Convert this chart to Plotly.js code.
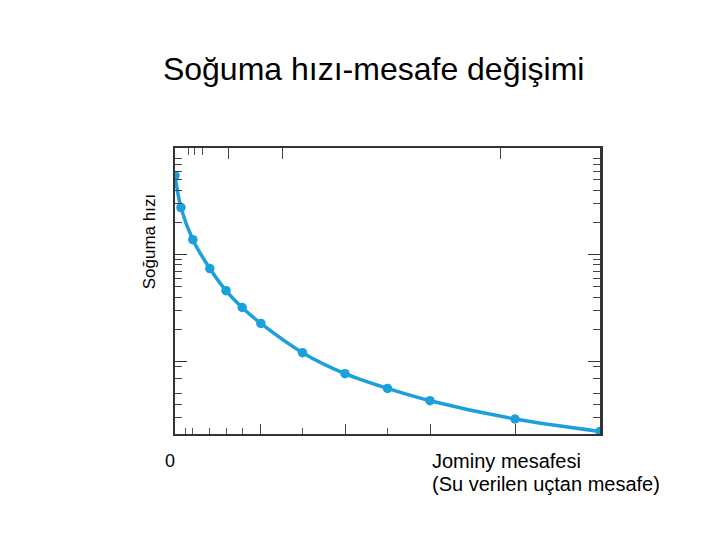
<!DOCTYPE html>
<html>
<head>
<meta charset="utf-8">
<script src="https://cdn.plot.ly/plotly-3.0.1.min.js"></script>
<style>html,body{margin:0;padding:0;background:#fff;}#chart{width:720px;height:540px;}</style>
</head>
<body>
<div id="chart"></div>
<script>
// Jominy distance (arbitrary units) and cooling rate (log scale)
const distance = [0, 0.14, 0.42, 0.82, 1.2, 1.58, 2.02, 3.0, 4.0, 5.0, 6.0, 8.0, 10.0];
const coolingRate = [54.7, 27.5, 13.8, 7.4, 4.6, 3.2, 2.27, 1.21, 0.77, 0.56, 0.43, 0.29, 0.222];

const titleText = "Soğuma hızı-mesafe değişimi";
const yLabel = "Soğuma hızı";
const xZeroLabel = "0";
const xLabelLine1 = "Jominy mesafesi";
const xLabelLine2 = "(Su verilen uçtan mesafe)";

// tick positions (no labels drawn)
const bottomMajorTicks = [2, 4, 6, 8];
const bottomMinorTicks = [0.24, 0.42, 0.82, 1.2, 1.58, 3, 5];
const topMajorTicks = [1.27, 2.54, 7.65];
const topMinorTicks = [0.31, 0.47, 0.64];
const yMajorTicks = [1, 10];
const yMinorTicks = [0.3, 0.4, 0.5, 0.7, 0.9, 2, 3, 4, 5, 6, 7, 8, 9, 20, 30, 40, 50, 60, 70, 80];

const blue = "#1ca0dc";
const frame = "#333333";

const traces = [
  {
    x: distance, y: coolingRate, type: "scatter", mode: "lines+markers",
    line: {color: blue, width: 3.5, shape: "spline", smoothing: 0.8},
    marker: {color: blue, size: 9.5},
    hoverinfo: "skip", showlegend: false
  },
  {
    x: [0, 10], y: [1, 1], xaxis: "x2", type: "scatter", mode: "none",
    hoverinfo: "skip", showlegend: false
  }
];

const layout = {
  width: 720, height: 540,
  paper_bgcolor: "#ffffff", plot_bgcolor: "#ffffff",
  margin: {l: 175, r: 120, t: 148, b: 106, pad: 0},
  font: {family: "Liberation Sans, Arial, sans-serif", color: "#000"},
  title: {
    text: titleText, font: {size: 32, color: "#000"},
    x: 0.519, xanchor: "center", y: 0.873, yanchor: "middle"
  },
  xaxis: {
    range: [0, 10], showgrid: false, zeroline: false,
    showline: true, linecolor: frame, linewidth: 2, mirror: false,
    tickmode: "array", tickvals: bottomMajorTicks, ticktext: bottomMajorTicks.map(() => ""),
    ticks: "inside", ticklen: 10, tickwidth: 1, tickcolor: "#444",
    minor: {tickmode: "array", tickvals: bottomMinorTicks, ticks: "inside", ticklen: 6, tickwidth: 1, tickcolor: "#555", showgrid: false},
    showticklabels: false, fixedrange: true
  },
  xaxis2: {
    range: [0, 10], overlaying: "x", side: "top", showgrid: false, zeroline: false,
    showline: true, linecolor: frame, linewidth: 2,
    tickmode: "array", tickvals: topMajorTicks, ticktext: topMajorTicks.map(() => ""),
    ticks: "inside", ticklen: 11, tickwidth: 1, tickcolor: "#444",
    minor: {tickmode: "array", tickvals: topMinorTicks, ticks: "inside", ticklen: 7, tickwidth: 1, tickcolor: "#555", showgrid: false},
    showticklabels: false, fixedrange: true
  },
  yaxis: {
    type: "log", range: [-0.678, 1.997], showgrid: false, zeroline: false,
    showline: true, linecolor: frame, linewidth: 2.5, mirror: "ticks",
    tickmode: "array", tickvals: yMajorTicks, ticktext: yMajorTicks.map(() => ""),
    ticks: "inside", ticklen: 12, tickwidth: 1, tickcolor: "#333",
    minor: {tickmode: "array", tickvals: yMinorTicks, ticks: "inside", ticklen: 7, tickwidth: 1, tickcolor: "#444", showgrid: false},
    showticklabels: false, fixedrange: true
  },
  annotations: [
    {text: yLabel, xref: "paper", yref: "paper", x: -0.06, y: 0.672, xanchor: "center", yanchor: "middle",
     textangle: -90, showarrow: false, font: {size: 17, color: "#000"}},
    {text: xZeroLabel, xref: "paper", yref: "paper", x: -0.012, y: -0.095, xanchor: "center", yanchor: "middle",
     showarrow: false, font: {size: 18, color: "#000"}},
    {text: xLabelLine1, xref: "paper", yref: "paper", x: 0.6, y: -0.095, xanchor: "left", yanchor: "middle",
     align: "left", showarrow: false, font: {size: 20, color: "#000"}},
    {text: xLabelLine2, xref: "paper", yref: "paper", x: 0.6, y: -0.176, xanchor: "left", yanchor: "middle",
     align: "left", showarrow: false, font: {size: 20, color: "#000"}}
  ]
};

Plotly.newPlot("chart", traces, layout, {displayModeBar: false, staticPlot: true});
</script>
</body>
</html>
